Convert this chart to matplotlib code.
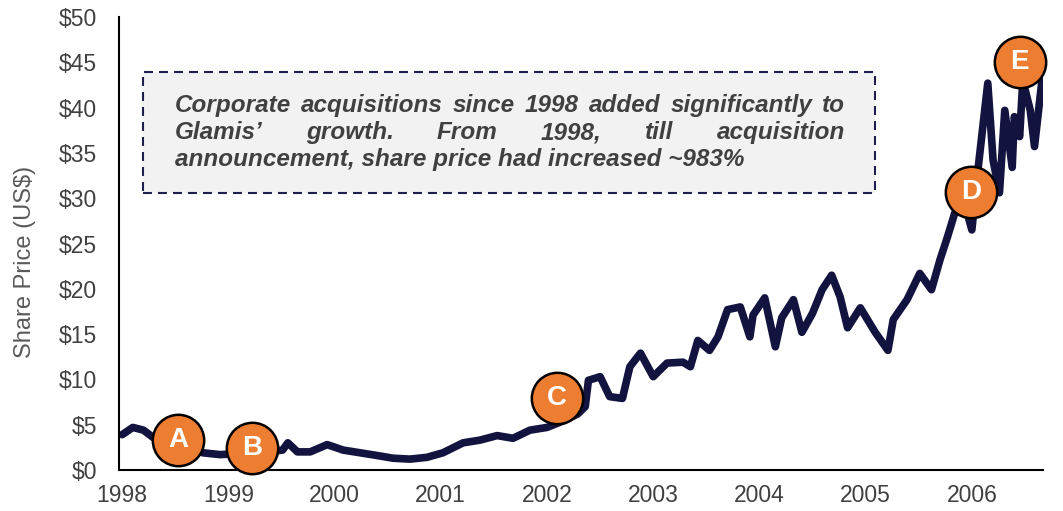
import numpy as np
import matplotlib.pyplot as plt
from matplotlib.patches import Rectangle

plt.rcParams['font.family'] = ['Liberation Sans', 'DejaVu Sans']

# share price (decimal year, US$)
dates = [1998.00, 1998.10, 1998.20, 1998.29, 1998.45, 1998.64, 1998.76, 1998.92,
         1999.11, 1999.30, 1999.51, 1999.56, 1999.65, 1999.77, 1999.93, 2000.08,
         2000.24, 2000.40, 2000.55, 2000.71, 2000.87, 2001.02, 2001.21, 2001.37,
         2001.53, 2001.68, 2001.84, 2002.00, 2002.17, 2002.29, 2002.36, 2002.39,
         2002.50, 2002.59, 2002.71, 2002.78, 2002.88, 2003.00, 2003.13, 2003.28,
         2003.35, 2003.42, 2003.53, 2003.61, 2003.70, 2003.82, 2003.91, 2003.94,
         2004.05, 2004.15, 2004.21, 2004.32, 2004.40, 2004.50, 2004.59, 2004.68,
         2004.76, 2004.83, 2004.95, 2005.09, 2005.21, 2005.26, 2005.39, 2005.51,
         2005.62, 2005.70, 2005.77, 2005.84, 2005.93, 2006.00, 2006.06, 2006.15,
         2006.20, 2006.26, 2006.31, 2006.38, 2006.40, 2006.45, 2006.48, 2006.55,
         2006.59, 2006.66]
price = [3.9, 4.7, 4.4, 3.6, 3.0, 2.3, 1.9, 1.7,
         1.8, 1.9, 2.2, 3.0, 2.0, 2.0, 2.8, 2.2,
         1.9, 1.6, 1.3, 1.2, 1.4, 1.9, 3.0, 3.3,
         3.8, 3.5, 4.4, 4.7, 5.5, 6.2, 7.0, 9.9,
         10.3, 8.1, 7.9, 11.4, 12.9, 10.3, 11.8, 11.9,
         11.4, 14.3, 13.2, 14.7, 17.7, 18.0, 14.7, 17.1,
         19.0, 13.6, 16.8, 18.8, 15.2, 17.3, 19.9, 21.5,
         19.1, 15.7, 17.9, 15.2, 13.2, 16.6, 18.8, 21.7,
         19.9, 23.2, 25.7, 28.4, 29.5, 26.5, 33.4, 42.7,
         34.2, 30.6, 39.7, 33.4, 39.0, 36.8, 43.0, 39.7,
         35.7, 43.0]

# acquisition markers
event_labels = ['A', 'B', 'C', 'D', 'E']
event_dates = [1998.53, 1999.22, 2002.09, 2005.99, 2006.45]
event_values = [3.3, 2.4, 7.9, 30.7, 45.0]

years = list(range(1998, 2007))
yticks = list(range(0, 51, 5))

note = ["Corporate acquisitions since 1998 added significantly to",
        "Glamis\u2019 growth. From 1998, till acquisition",
        "announcement, share price had increased ~983%"]

W, H = 1063, 511
navy = '#13133f'
grey = '#404040'

fig = plt.figure(figsize=(W / 100, H / 100), dpi=100)
ax = fig.add_axes([119 / W, 1 - 470 / H, (1043 - 119) / W, (470 - 17) / H])

ax.plot(dates, price, color=navy, lw=5.5, solid_joinstyle='round',
        solid_capstyle='round', zorder=2)

ax.plot(event_dates, event_values, 'o', ms=37, mfc='#ed7d31', mec='black',
        mew=1.8, zorder=3, clip_on=False)
for lab, d, v in zip(event_labels, event_dates, event_values):
    ax.text(d, v, lab, ha='center', va='center', color='white',
            fontsize=20, fontweight='bold', zorder=4)

ax.set_xlim(1997.97, 2006.67)
ax.set_ylim(0, 50)
ax.set_xticks(years)
ax.set_xticklabels([str(y) for y in years])
ax.set_yticks(yticks)
ax.set_yticklabels(['$%d' % v for v in yticks])
ax.tick_params(length=0, labelsize=16.5, labelcolor=grey)
ax.tick_params(axis='y', pad=16)
ax.tick_params(axis='x', pad=10)
for s in ['top', 'right']:
    ax.spines[s].set_visible(False)
for s in ['left', 'bottom']:
    ax.spines[s].set_linewidth(1.5)
    ax.spines[s].set_color('black')
ax.set_ylabel('Share Price (US$)', fontsize=17, color='#595959')
ax.yaxis.set_label_coords(-0.09, 0.46)

# dashed note box
box = Rectangle((143 / W, 1 - 193 / H), (875 - 143) / W, (193 - 72) / H,
                transform=fig.transFigure, facecolor='#f2f2f2',
                edgecolor='#1f1f4f', lw=1.5, linestyle=(0, (4.3, 2.9)),
                zorder=1)
fig.patches.append(box)

fig.canvas.draw()
r = fig.canvas.get_renderer()
x0, x1 = 175, 845
baselines = [112, 139, 166]
kw = dict(fontsize=17.5, fontweight='bold', style='italic', color=grey,
          va='baseline', ha='left')
for i, (line, yb) in enumerate(zip(note, baselines)):
    yf = 1 - yb / H
    if i == len(note) - 1:
        fig.text(x0 / W, yf, line, **kw)
        continue
    words = line.split()
    ts = [fig.text(0, yf, w, **kw) for w in words]
    ws = [t.get_window_extent(r).width for t in ts]
    gap = (x1 - x0 - sum(ws)) / (len(words) - 1)
    x = x0
    for t, w in zip(ts, ws):
        t.set_x(x / W)
        x += w + gap

fig.savefig('out.png', dpi=100)
